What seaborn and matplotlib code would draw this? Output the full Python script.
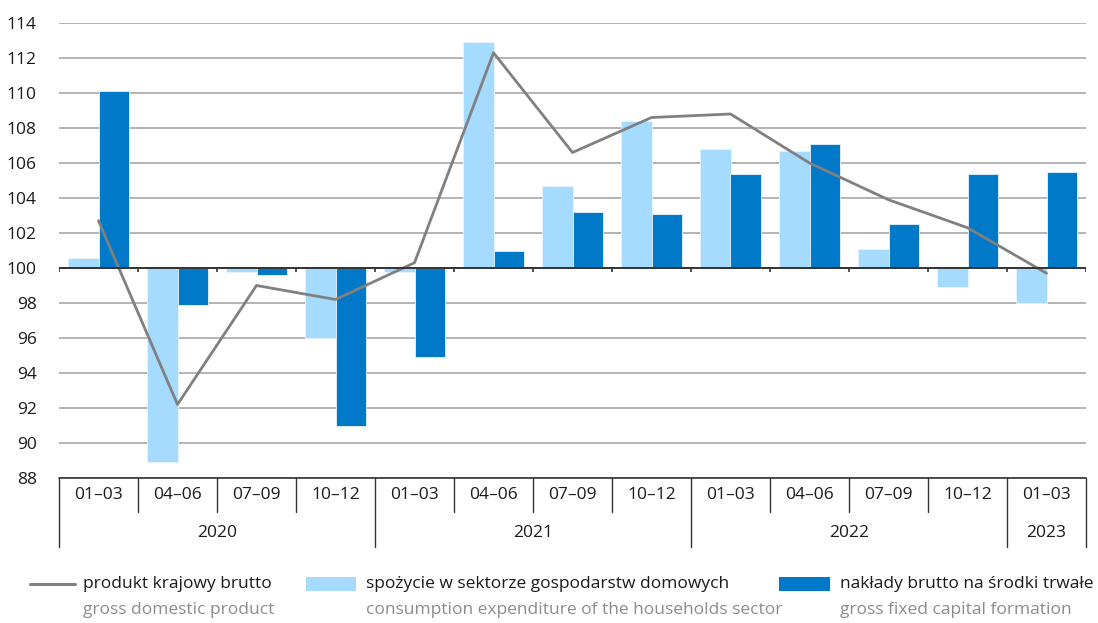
import numpy as np
import pandas as pd
import matplotlib
matplotlib.use("Agg")
import matplotlib.pyplot as plt
import matplotlib.transforms as mtransforms
from matplotlib.lines import Line2D
from matplotlib.patches import Rectangle
import seaborn as sns

quarters = ["01–03", "04–06", "07–09", "10–12",
            "01–03", "04–06", "07–09", "10–12",
            "01–03", "04–06", "07–09", "10–12",
            "01–03"]
years = ["2020", "2021", "2022", "2023"]
year_spans = [4, 4, 4, 1]
gdp = [102.7, 92.2, 99.0, 98.2, 100.3, 112.3, 106.6, 108.6, 108.8, 106.0, 103.9, 102.3, 99.7]
consumption = [100.6, 88.9, 99.8, 96.0, 99.8, 112.9, 104.7, 108.4, 106.8, 106.7, 101.1, 98.9, 98.0]
gfcf = [110.1, 97.9, 99.6, 91.0, 94.9, 101.0, 103.2, 103.1, 105.4, 107.1, 102.5, 105.4, 105.5]
yticks = list(range(88, 115, 2))

labels_pl = ["produkt krajowy brutto", "spożycie w sektorze gospodarstw domowych",
             "nakłady brutto na środki trwałe"]
labels_en = ["gross domestic product", "consumption expenditure of the households sector",
             "gross fixed capital formation"]

C_LIGHT = "#a5dbfe"
C_DARK = "#0079c8"
C_LINE = "#808080"
C_GRID = "#b3b3b3"

sns.set_theme(style="white")
plt.rcParams["font.family"] = ["Open Sans", "DejaVu Sans"]

W, H = 1098, 623
fig = plt.figure(figsize=(W / 100, H / 100), dpi=100)
L, R, T, B = 59, 1086, 23, 478
ax = fig.add_axes([L / W, 1 - B / H, (R - L) / W, (B - T) / H])

n = len(quarters)
idx = np.arange(n)
df = pd.DataFrame({
    "pos": np.concatenate([idx, idx]),
    "val": np.concatenate([np.array(consumption) - 100, np.array(gfcf) - 100]),
    "series": [labels_pl[1]] * n + [labels_pl[2]] * n,
})

# grid
for yv in yticks:
    ax.axhline(yv, color=C_GRID, lw=1.4, zorder=0)

sns.barplot(data=df, x="pos", y="val", hue="series", order=list(idx),
            palette=[C_LIGHT, C_DARK], saturation=1, width=0.76, ax=ax, legend=False,
            bottom=100, edgecolor="#e8f4ff", linewidth=0.6, zorder=2)

sns.lineplot(x=idx, y=gdp, ax=ax, color=C_LINE, lw=2.0, zorder=4, legend=False)

ax.set_xlim(-0.5, n - 0.5)
ax.set_ylim(88, 114)
ax.set_yticks(yticks)
ax.set_yticklabels([str(v) for v in yticks], fontsize=12.5, color="#1a1a1a")
ax.tick_params(axis="y", length=0, pad=16)
ax.set_xticks([])
ax.set_xlabel("")
ax.set_ylabel("")
for s in ax.spines.values():
    s.set_visible(False)

# 100 baseline with small ticks
ax.axhline(100, color="#333333", lw=1.4, zorder=5)
ax.vlines(np.arange(n + 1) - 0.5, 100 - 0.25, 100, color="#333333", lw=1.2, zorder=5)

# category table below
trans = mtransforms.blended_transform_factory(ax.transData, ax.transAxes)
hpx = B - T
def yfrac(py):
    return (B - py) / hpx

ax.plot([-0.5, n - 0.5], [0, 0], transform=trans, color="#333333", lw=1.2, clip_on=False)
year_bounds = np.concatenate([[0], np.cumsum(year_spans)])
for k in range(n + 1):
    bottom = 547 if k in year_bounds else 512
    ax.plot([k - 0.5, k - 0.5], [0, yfrac(bottom)], transform=trans,
            color="#333333", lw=1.0, clip_on=False)
for i, q in enumerate(quarters):
    ax.text(i, yfrac(495), q, transform=trans, ha="center", va="center",
            fontsize=12.5, color="#1a1a1a")
for j, yr in enumerate(years):
    c = (year_bounds[j] + year_bounds[j + 1]) / 2 - 0.5
    ax.text(c, yfrac(533), yr, transform=trans, ha="center", va="center",
            fontsize=12.5, color="#1a1a1a")

# legend
def fx(px):
    return px / W
def fy(py):
    return 1 - py / H

fig.add_artist(Line2D([fx(30), fx(75)], [fy(584), fy(584)], color=C_LINE, lw=2.2))
fig.add_artist(Rectangle((fx(306), fy(591)), fx(50), 14 / H, color=C_LIGHT, lw=0))
fig.add_artist(Rectangle((fx(779), fy(591)), fx(51), 14 / H, color=C_DARK, lw=0))
for xpx, pl, en in zip([83, 366, 840], labels_pl, labels_en):
    fig.text(fx(xpx), fy(584), pl, ha="left", va="center", fontsize=12.5, color="#1a1a1a")
    fig.text(fx(xpx), fy(610), en, ha="left", va="center", fontsize=12.5, color="#8c8c8c")

fig.savefig("out.png", dpi=100)
